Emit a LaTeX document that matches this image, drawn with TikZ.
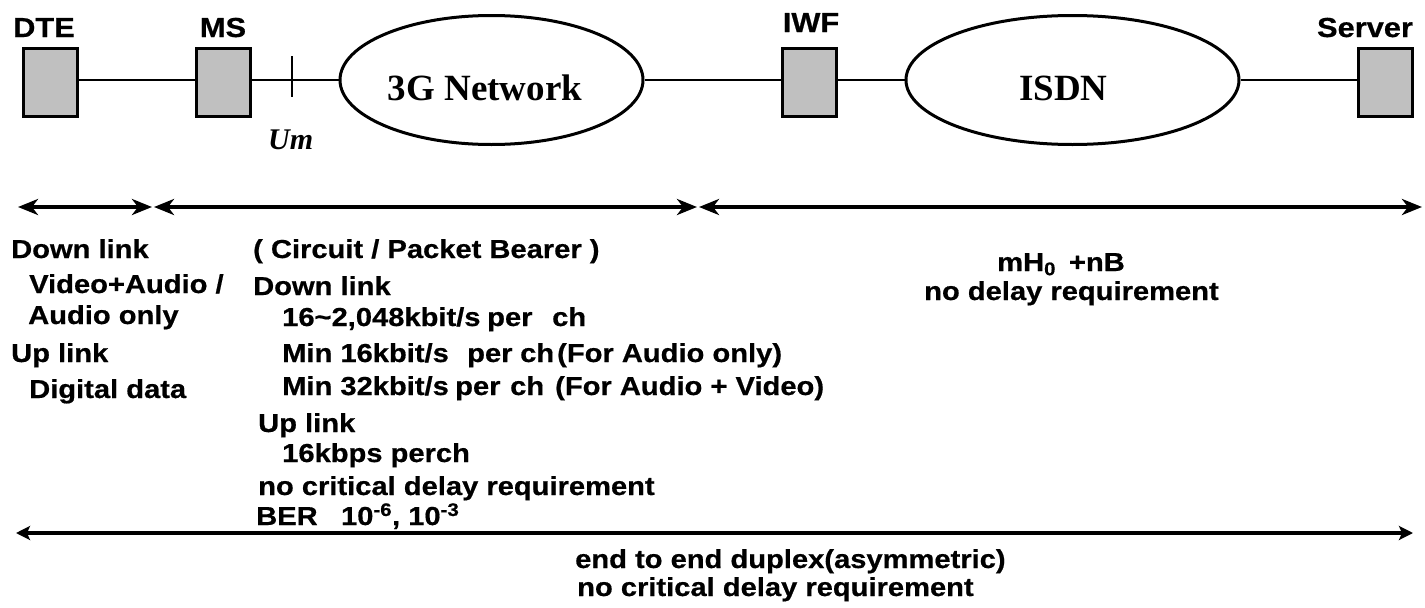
\documentclass[tikz,border=0pt]{standalone}
\usepackage{fontspec}
\usetikzlibrary{arrows.meta,shapes.geometric}
\newfontfamily\sansb{Liberation Sans Bold}[FakeStretch=1.12,FakeBold=0.6]
\newfontfamily\serifb{Liberation Serif}
\definecolor{boxgray}{HTML}{C0C0C0}
\begin{document}
\begin{tikzpicture}[x=1pt,y=-1pt,
  dev/.style={draw,line width=3pt,fill=boxgray,minimum width=54pt,minimum height=68pt,inner sep=0},
  cloud/.style={draw,line width=3pt,ellipse,inner sep=0},
  lbl/.style={anchor=base,inner sep=0,font=\sansb\fontsize{27.5}{32}\selectfont},
  txt/.style={anchor=base west,inner sep=0,font=\sansb\fontsize{26}{30}\selectfont},
  ctxt/.style={anchor=base,inner sep=0,font=\serifb\bfseries\fontsize{37}{40}\selectfont},
  link/.style={line width=2.3pt},
  arr/.style={line width=3.5pt,{Stealth[length=20pt,width=16pt,inset=6pt]}-{Stealth[length=20pt,width=16pt,inset=6pt]}},
  barr/.style={line width=3.5pt,{Stealth[length=14pt,width=14pt,inset=3pt]}-{Stealth[length=14pt,width=14pt,inset=3pt]}}]
\useasboundingbox (0,0) rectangle (1425,608);
% devices
\node[dev] (dte) at (50,82) {};
\node[dev] (ms) at (223,82) {};
\node[dev] (iwf) at (809.5,82) {};
\node[dev] (server) at (1385,82) {};
\node[cloud,minimum width=303pt,minimum height=129pt] (net) at (491.5,80) {};
\node[cloud,minimum width=333pt,minimum height=129pt] (isdn) at (1072.5,80) {};
% labels
\node[lbl] (ldte) at (44,37) {DTE};
\node[lbl] (lms) at (223,37) {MS};
\node[lbl] (liwf) at (811,32) {IWF};
\node[lbl] (lserver) at (1365,37) {Server};
\node[ctxt] (tnet) at (485,100) {3G Network};
\node[ctxt] (tisdn) at (1063.5,100) {ISDN};
\node[anchor=base west,inner sep=0,font=\serifb\bfseries\itshape\fontsize{30}{32}\selectfont] (um) at (268,149) {Um};
% links
\draw[link] (dte.east |- 0,80) -- (ms.west |- 0,80);
\draw[link] (ms.east |- 0,80) -- (net.west);
\draw[link] (net.east) -- (iwf.west |- 0,80);
\draw[link] (iwf.east |- 0,80) -- (isdn.west);
\draw[link] (isdn.east) -- (server.west |- 0,80);
\coordinate (tickt) at (292,56);
\coordinate (tickb) at (292,97);
\draw[link] (tickt) -- (tickb);
% span arrows
\coordinate (a1l) at (18,207); \coordinate (a1r) at (152,207);
\coordinate (a2l) at (154,207); \coordinate (a2r) at (697,207);
\coordinate (a3l) at (699,207); \coordinate (a3r) at (1422,207);
\coordinate (bl) at (16,533); \coordinate (br) at (1413,533);
\draw[arr] (a1l) -- (a1r);
\draw[arr] (a2l) -- (a2r);
\draw[arr] (a3l) -- (a3r);
\draw[barr] (bl) -- (br);
% left column
\node[txt] (l1) at (11,258) {Down link};
\node[txt] (l2) at (29,293) {Video+Audio /};
\node[txt] (l3) at (28,324) {Audio only};
\node[txt] (l4) at (11,362) {Up link};
\node[txt] (l5) at (29,398) {Digital data};
% middle column
\node[txt] (m1) at (253,258) {( Circuit / Packet Bearer )};
\node[txt] (m2) at (253,295) {Down link};
\node[txt] (m3a) at (282,326) {16\textasciitilde 2,048kbit/s};
\node[txt] (m3b) at (487,326) {per};
\node[txt] (m3c) at (552,326) {ch};
\node[txt] (m4a) at (282,362) {Min 16kbit/s};
\node[txt] (m4b) at (467,362) {per};
\node[txt] (m4c) at (520,362) {ch};
\node[txt] (m4d) at (557,362) {(For Audio only)};
\node[txt] (m5a) at (282,395) {Min 32kbit/s};
\node[txt] (m5b) at (455,395) {per};
\node[txt] (m5c) at (510,395) {ch};
\node[txt] (m5d) at (555,395) {(For Audio + Video)};
\node[txt] (m6) at (258,432) {Up link};
\node[txt] (m7) at (282,462) {16kbps perch};
\node[txt] (m8) at (258,495) {no critical delay requirement};
\node[txt] (m9) at (256,525) {BER\hspace{0.9em}10\textsuperscript{-6}, 10\textsuperscript{-3}};
% right column
\node[txt] (r1) at (997,271) {mH\textsubscript{0}\hspace{0.5em}+nB};
\node[txt] (r2) at (924,300) {no delay requirement};
% bottom
\node[txt] (b1) at (575,568) {end to end duplex(asymmetric)};
\node[txt] (b2) at (577,596) {no critical delay requirement};
\end{tikzpicture}
\end{document}
